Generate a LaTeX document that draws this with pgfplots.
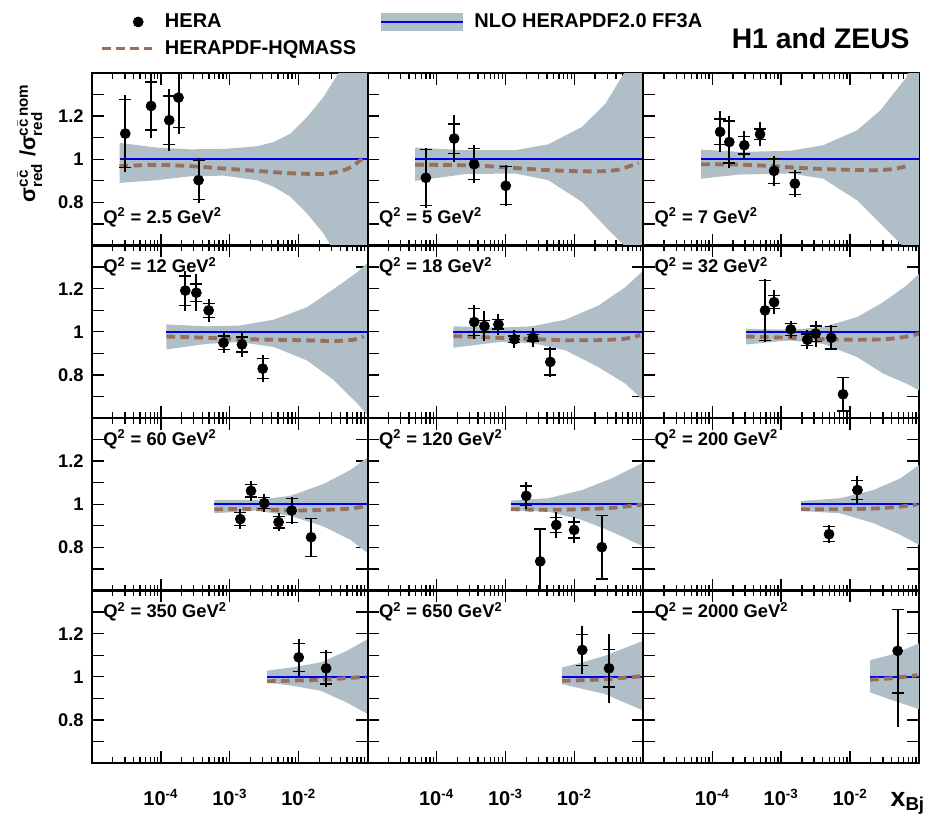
\documentclass[border=0pt]{standalone}
\usepackage{fontspec}
\setmainfont{Liberation Sans}
\usepackage{amsmath}
\usepackage{pgfplots}
\pgfplotsset{compat=1.18}
\definecolor{bandc}{RGB}{176,190,200}
\definecolor{brownc}{RGB}{150,112,92}
\definecolor{nloblue}{RGB}{0,0,230}
\pgfplotsset{
 hpanel/.style={
  scale only axis, width=165.4pt, height=103.5pt,
  xmin=1e-5, xmax=1e-1, ymin=0.6, ymax=1.4,
  xtick={1e-5,1e-4,1e-3,1e-2,1e-1},
  minor xtick={2e-5,3e-5,4e-5,5e-5,6e-5,7e-5,8e-5,9e-5,2e-4,3e-4,4e-4,5e-4,6e-4,7e-4,8e-4,9e-4,2e-3,3e-3,4e-3,5e-3,6e-3,7e-3,8e-3,9e-3,2e-2,3e-2,4e-2,5e-2,6e-2,7e-2,8e-2,9e-2},
  xticklabels={},
  ytick={0.7,0.8,0.9,1,1.1,1.2,1.3}, yticklabels={},
  major tick length=7pt, minor tick length=3.5pt,
  tick style={black, line width=0.8pt},
  axis line style={line width=1.2pt},
  yticklabel style={font=\bfseries\fontsize{11}{13}\selectfont, xshift=-1.5pt},
  xticklabel style={font=\bfseries\fontsize{12}{14}\selectfont, yshift=-12pt},
 },
 hleft/.style={yticklabels={{},0.8,{},1,{},1.2,{}}},
 hbottom/.style={xticklabels={{},10\textsuperscript{-4},10\textsuperscript{-3},10\textsuperscript{-2},{}}},
 hnlo/.style={nloblue, line width=1pt},
 hhq/.style={brownc, line width=2.3pt, dash pattern=on 5.2pt off 3.2pt, smooth},
 hband/.style={fill=bandc, draw=none},
 htot/.style={black, only marks, mark=none, error bars/y dir=both, error bars/y explicit, error bars/error mark=none, error bars/error bar style={line width=1.2pt, black}},
 hstat/.style={black, only marks, mark=*, mark size=3pt, mark options={fill=black}, error bars/y dir=both, error bars/y explicit, error bars/error bar style={line width=0.8pt, black}, error bars/error mark options={rotate=90, mark size=3.6pt, line width=0.8pt, black}},
}
\tikzset{qlab/.style={anchor=west, font=\bfseries\fontsize{11}{13}\selectfont}}
\begin{document}
\begin{tikzpicture}
\path[use as bounding box] (-55.2pt,43.8pt) rectangle (502.8pt,-447pt);

% ---------------- Row 1 ----------------
\begin{semilogxaxis}[hpanel, hleft, at={(0pt,0pt)}, legend columns=2, legend cell align=left,
  legend style={at={(0.029,1.36)}, anchor=north west, draw=none, fill=none, inner sep=0pt,
    font=\bfseries\fontsize{12}{14}\selectfont,
    nodes={inner sep=1.5pt}, row sep=3pt,
    /tikz/every odd column/.append style={column sep=5pt},
    /tikz/every even column/.append style={column sep=13pt}},
  anchor=north west]
\addlegendimage{legend image code/.code={\path[draw=none, fill=none] (0pt,-3pt) rectangle (30pt,3pt); \fill[black] (21.6pt,0pt) circle (3pt);}}
\addlegendentry{HERA}
\addlegendimage{legend image code/.code={\fill[bandc] (0pt,-5pt) rectangle (49pt,5pt); \draw[nloblue, line width=1pt] (0pt,0pt) -- (49pt,0pt);}}
\addlegendentry{NLO HERAPDF2.0 FF3A}
\addlegendimage{legend image code/.code={\draw[brownc, line width=2.3pt, dash pattern=on 5.2pt off 3.2pt] (0pt,0pt) -- (30pt,0pt);}}
\addlegendentry{HERAPDF-HQMASS}
\addplot[hband] coordinates {(2.51e-5,1.076) (8.71e-5,1.054) (2.69e-4,1.046) (8.13e-4,1.048) (2.45e-3,1.060) (4.37e-3,1.080) (7.59e-3,1.119) (1.32e-2,1.196) (2.29e-2,1.289) (3.98e-2,1.412) (0.1,1.75)
 (0.1,0.3) (3.98e-2,0.52) (2.29e-2,0.656) (1.32e-2,0.748) (7.59e-3,0.826) (4.37e-3,0.872) (2.45e-3,0.903) (8.13e-4,0.924) (2.69e-4,0.921) (8.71e-5,0.903) (2.51e-5,0.890)} -- cycle;
\addplot[hnlo] coordinates {(2.51e-5,1) (0.1,1)};
\addplot[hhq] coordinates {(2.51e-5,0.968) (8.71e-5,0.974) (2.69e-4,0.968) (8.13e-4,0.957) (2.45e-3,0.946) (7.59e-3,0.935) (2.29e-2,0.932) (4.47e-2,0.949) (6.27e-2,0.972) (8.75e-2,1.008)};
\addplot[htot] coordinates {(3.04e-5,1.119) +- (0,0.18) (7.2e-5,1.247) +- (0,0.15) (1.32e-4,1.181) +- (0,0.143) (1.8e-4,1.286) +- (0,0.167) (3.52e-4,0.903) +- (0,0.105)};
\addplot[hstat] coordinates {(3.04e-5,1.119) +- (0,0.157) (7.2e-5,1.247) +- (0,0.112) (1.32e-4,1.181) +- (0,0.112) (1.8e-4,1.286) +- (0,0.14) (3.52e-4,0.903) +- (0,0.09)};
\node[qlab] at (rel axis cs:0.02,0.165) {Q\textsuperscript{2} = 2.5 GeV\textsuperscript{2}};
\end{semilogxaxis}

\begin{semilogxaxis}[hpanel, at={(165.4pt,0pt)}, anchor=north west]
\addplot[hband] coordinates {(4.90e-5,1.054) (2.60e-4,1.042) (1.38e-3,1.042) (4.17e-3,1.069) (1.29e-2,1.150) (2.82e-2,1.258) (5.50e-2,1.41) (0.1,1.7)
 (0.1,0.35) (5.50e-2,0.594) (2.82e-2,0.687) (1.29e-2,0.802) (4.17e-3,0.903) (1.38e-3,0.934) (2.60e-4,0.931) (4.90e-5,0.900)} -- cycle;
\addplot[hnlo] coordinates {(4.90e-5,1) (0.1,1)};
\addplot[hhq] coordinates {(4.90e-5,0.975) (2.60e-4,0.972) (7.94e-4,0.965) (2.42e-3,0.954) (7.35e-3,0.946) (2.24e-2,0.944) (4.37e-2,0.952) (8.5e-2,0.983)};
\addplot[htot] coordinates {(7.0e-5,0.914) +- (0,0.14) (1.8e-4,1.096) +- (0,0.108) (3.5e-4,0.977) +- (0,0.088) (1.01e-3,0.877) +- (0,0.095)};
\addplot[hstat] coordinates {(7.0e-5,0.914) +- (0,0.13) (1.8e-4,1.096) +- (0,0.068) (3.5e-4,0.977) +- (0,0.072) (1.01e-3,0.877) +- (0,0.088)};
\node[qlab] at (rel axis cs:0.02,0.165) {Q\textsuperscript{2} = 5 GeV\textsuperscript{2}};
\end{semilogxaxis}

\begin{semilogxaxis}[hpanel, at={(330.8pt,0pt)}, anchor=north west]
\addplot[hband] coordinates {(6.92e-5,1.045) (2.51e-4,1.034) (1.35e-3,1.039) (4.07e-3,1.065) (1.26e-2,1.134) (2.75e-2,1.227) (6.61e-2,1.381) (0.1,1.55)
 (0.1,0.45) (6.61e-2,0.58) (2.75e-2,0.702) (1.26e-2,0.810) (4.07e-3,0.910) (1.35e-3,0.934) (2.51e-4,0.929) (6.92e-5,0.910)} -- cycle;
\addplot[hnlo] coordinates {(6.92e-5,1) (0.1,1)};
\addplot[hhq] coordinates {(6.92e-5,0.977) (2.51e-4,0.975) (7.71e-4,0.968) (2.36e-3,0.958) (7.16e-3,0.952) (2.18e-2,0.949) (4.25e-2,0.955) (7.43e-2,0.972)};
\addplot[htot] coordinates {(1.30e-4,1.127) +- (0,0.095) (1.77e-4,1.080) +- (0,0.12) (2.92e-4,1.065) +- (0,0.066) (4.94e-4,1.116) +- (0,0.056) (7.9e-4,0.946) +- (0,0.07) (1.58e-3,0.887) +- (0,0.062)};
\addplot[hstat] coordinates {(1.30e-4,1.127) +- (0,0.06) (1.77e-4,1.080) +- (0,0.097) (2.92e-4,1.065) +- (0,0.04) (4.94e-4,1.116) +- (0,0.025) (7.9e-4,0.946) +- (0,0.058) (1.58e-3,0.887) +- (0,0.05)};
\node[qlab] at (rel axis cs:0.02,0.165) {Q\textsuperscript{2} = 7 GeV\textsuperscript{2}};
\end{semilogxaxis}

% ---------------- Row 2 ----------------
\begin{semilogxaxis}[hpanel, hleft, at={(0pt,-103.5pt)}, anchor=north west]
\addplot[hband] coordinates {(1.20e-4,1.034) (4.68e-4,1.025) (1.41e-3,1.029) (4.37e-3,1.056) (1.32e-2,1.114) (3.24e-2,1.199) (7.08e-2,1.276) (0.1,1.32)
 (0.1,0.613) (7.08e-2,0.667) (3.24e-2,0.775) (1.32e-2,0.867) (4.37e-3,0.929) (1.41e-3,0.952) (4.68e-4,0.944) (1.20e-4,0.918)} -- cycle;
\addplot[hnlo] coordinates {(1.20e-4,1) (0.1,1)};
\addplot[hhq] coordinates {(1.20e-4,0.978) (4.68e-4,0.972) (1.41e-3,0.966) (4.37e-3,0.963) (1.32e-2,0.960) (3.24e-2,0.957) (6.27e-2,0.963) (8.75e-2,0.978)};
\addplot[htot] coordinates {(2.26e-4,1.191) +- (0,0.093) (3.27e-4,1.181) +- (0,0.085) (4.93e-4,1.099) +- (0,0.054) (8.1e-4,0.949) +- (0,0.048) (1.50e-3,0.941) +- (0,0.056) (3.0e-3,0.829) +- (0,0.061)};
\addplot[hstat] coordinates {(2.26e-4,1.191) +- (0,0.068) (3.27e-4,1.181) +- (0,0.04) (4.93e-4,1.099) +- (0,0.033) (8.1e-4,0.949) +- (0,0.031) (1.50e-3,0.941) +- (0,0.035) (3.0e-3,0.829) +- (0,0.047)};
\node[qlab] at (rel axis cs:0.02,0.877) {Q\textsuperscript{2} = 12 GeV\textsuperscript{2}};
\end{semilogxaxis}

\begin{semilogxaxis}[hpanel, at={(165.4pt,-103.5pt)}, anchor=north west]
\addplot[hband] coordinates {(1.76e-4,1.025) (7.94e-4,1.019) (2.40e-3,1.025) (7.41e-3,1.056) (2.24e-2,1.122) (5.50e-2,1.207) (0.1,1.284)
 (0.1,0.682) (5.50e-2,0.759) (2.24e-2,0.836) (7.41e-3,0.914) (2.40e-3,0.948) (7.94e-4,0.952) (1.76e-4,0.926)} -- cycle;
\addplot[hnlo] coordinates {(1.76e-4,1) (0.1,1)};
\addplot[hhq] coordinates {(1.76e-4,0.980) (7.94e-4,0.972) (2.42e-3,0.966) (7.35e-3,0.961) (2.24e-2,0.961) (5.5e-2,0.968) (9.0e-2,0.985)};
\addplot[htot] coordinates {(3.52e-4,1.045) +- (0,0.08) (4.95e-4,1.026) +- (0,0.068) (7.9e-4,1.034) +- (0,0.047) (1.35e-3,0.965) +- (0,0.042) (2.5e-3,0.972) +- (0,0.044) (4.47e-3,0.860) +- (0,0.071)};
\addplot[hstat] coordinates {(3.52e-4,1.045) +- (0,0.062) (4.95e-4,1.026) +- (0,0.027) (7.9e-4,1.034) +- (0,0.022) (1.35e-3,0.965) +- (0,0.015) (2.5e-3,0.972) +- (0,0.015) (4.47e-3,0.860) +- (0,0.06)};
\node[qlab] at (rel axis cs:0.02,0.877) {Q\textsuperscript{2} = 18 GeV\textsuperscript{2}};
\end{semilogxaxis}

\begin{semilogxaxis}[hpanel, at={(330.8pt,-103.5pt)}, anchor=north west]
\addplot[hband] coordinates {(3.09e-4,1.014) (1.35e-3,1.009) (4.07e-3,1.022) (1.26e-2,1.068) (3.02e-2,1.137) (6.61e-2,1.215) (0.1,1.269)
 (0.1,0.728) (6.61e-2,0.759) (3.02e-2,0.806) (1.26e-2,0.883) (4.07e-3,0.944) (1.35e-3,0.960) (3.09e-4,0.941)} -- cycle;
\addplot[hnlo] coordinates {(3.09e-4,1) (0.1,1)};
\addplot[hhq] coordinates {(3.09e-4,0.978) (1.35e-3,0.972) (4.07e-3,0.966) (1.26e-2,0.963) (3.02e-2,0.965) (5.94e-2,0.975) (0.1,0.991)};
\addplot[htot] coordinates {(5.83e-4,1.099) +- (0,0.145) (7.9e-4,1.137) +- (0,0.056) (1.38e-3,1.011) +- (0,0.04) (2.4e-3,0.963) +- (0,0.044) (3.16e-3,0.991) +- (0,0.06) (5.35e-3,0.972) +- (0,0.057) (7.9e-3,0.710) +- (0,0.08)};
\addplot[hstat] coordinates {(5.83e-4,1.099) +- (0,0.14) (7.9e-4,1.137) +- (0,0.03) (1.38e-3,1.011) +- (0,0.027) (2.4e-3,0.963) +- (0,0.027) (3.16e-3,0.991) +- (0,0.036) (5.35e-3,0.972) +- (0,0.052) (7.9e-3,0.710) +- (0,0.077)};
\node[qlab] at (rel axis cs:0.02,0.877) {Q\textsuperscript{2} = 32 GeV\textsuperscript{2}};
\end{semilogxaxis}

% ---------------- Row 3 ----------------
\begin{semilogxaxis}[hpanel, hleft, at={(0pt,-207pt)}, anchor=north west]
\addplot[hband] coordinates {(5.96e-4,1.020) (2.45e-3,1.020) (7.59e-3,1.039) (2.29e-2,1.094) (5.62e-2,1.159) (0.1,1.218)
 (0.1,0.773) (5.62e-2,0.835) (2.29e-2,0.897) (7.59e-3,0.946) (2.45e-3,0.971) (5.96e-4,0.958)} -- cycle;
\addplot[hnlo] coordinates {(5.96e-4,1) (0.1,1)};
\addplot[hhq] coordinates {(5.96e-4,0.977) (2.45e-3,0.977) (7.59e-3,0.971) (2.29e-2,0.974) (5.62e-2,0.980) (9.5e-2,0.992)};
\addplot[htot] coordinates {(1.42e-3,0.931) +- (0,0.046) (2.03e-3,1.062) +- (0,0.048) (3.16e-3,1.005) +- (0,0.043) (5.1e-3,0.917) +- (0,0.043) (7.9e-3,0.971) +- (0,0.062) (1.51e-2,0.847) +- (0,0.091)};
\addplot[hstat] coordinates {(1.42e-3,0.931) +- (0,0.031) (2.03e-3,1.062) +- (0,0.029) (3.16e-3,1.005) +- (0,0.026) (5.1e-3,0.917) +- (0,0.027) (7.9e-3,0.971) +- (0,0.056) (1.51e-2,0.847) +- (0,0.088)};
\node[qlab] at (rel axis cs:0.02,0.877) {Q\textsuperscript{2} = 60 GeV\textsuperscript{2}};
\end{semilogxaxis}

\begin{semilogxaxis}[hpanel, at={(165.4pt,-207pt)}, anchor=north west]
\addplot[hband] coordinates {(1.20e-3,1.017) (4.17e-3,1.028) (1.29e-2,1.066) (3.47e-2,1.120) (0.1,1.193)
 (0.1,0.804) (3.47e-2,0.873) (1.29e-2,0.927) (4.17e-3,0.966) (1.20e-3,0.971)} -- cycle;
\addplot[hnlo] coordinates {(1.20e-3,1) (0.1,1)};
\addplot[hhq] coordinates {(1.20e-3,0.977) (4.17e-3,0.974) (1.29e-2,0.977) (3.47e-2,0.983) (9.5e-2,0.998)};
\addplot[htot] coordinates {(2.0e-3,1.039) +- (0,0.063) (3.19e-3,0.735) +- (0,0.15) (5.45e-3,0.904) +- (0,0.06) (9.9e-3,0.881) +- (0,0.06) (2.5e-2,0.801) +- (0,0.148)};
\addplot[hstat] coordinates {(2.0e-3,1.039) +- (0,0.046) (3.19e-3,0.735) +- (0,0.15) (5.45e-3,0.904) +- (0,0.034) (9.9e-3,0.881) +- (0,0.037) (2.5e-2,0.801) +- (0,0.148)};
\node[qlab] at (rel axis cs:0.02,0.877) {Q\textsuperscript{2} = 120 GeV\textsuperscript{2}};
\end{semilogxaxis}

\begin{semilogxaxis}[hpanel, at={(330.8pt,-207pt)}, anchor=north west]
\addplot[hband] coordinates {(1.95e-3,1.015) (7.16e-3,1.028) (2.19e-2,1.066) (5.37e-2,1.120) (0.1,1.182)
 (0.1,0.812) (5.37e-2,0.858) (2.19e-2,0.912) (7.16e-3,0.958) (1.95e-3,0.969)} -- cycle;
\addplot[hnlo] coordinates {(1.95e-3,1) (0.1,1)};
\addplot[hhq] coordinates {(1.95e-3,0.977) (7.16e-3,0.977) (2.19e-2,0.980) (5.37e-2,0.989) (9.5e-2,1.0)};
\addplot[htot] coordinates {(4.95e-3,0.861) +- (0,0.043) (1.28e-2,1.066) +- (0,0.065)};
\addplot[hstat] coordinates {(4.95e-3,0.861) +- (0,0.035) (1.28e-2,1.066) +- (0,0.045)};
\node[qlab] at (rel axis cs:0.02,0.877) {Q\textsuperscript{2} = 200 GeV\textsuperscript{2}};
\end{semilogxaxis}

% ---------------- Row 4 ----------------
\begin{semilogxaxis}[hpanel, hleft, hbottom, at={(0pt,-310.5pt)}, anchor=north west]
\addplot[hband] coordinates {(3.47e-3,1.028) (8.5e-3,1.045) (2.09e-2,1.067) (5.0e-2,1.12) (0.1,1.175)
 (0.1,0.827) (5.0e-2,0.88) (2.09e-2,0.935) (8.5e-3,0.957) (3.47e-3,0.974)} -- cycle;
\addplot[hnlo] coordinates {(3.47e-3,1) (0.1,1)};
\addplot[hhq] coordinates {(3.47e-3,0.979) (2.09e-2,0.986) (9.5e-2,1.0)};
\addplot[htot] coordinates {(1.0e-2,1.090) +- (0,0.085) (2.5e-2,1.039) +- (0,0.085)};
\addplot[hstat] coordinates {(1.0e-2,1.090) +- (0,0.065) (2.5e-2,1.039) +- (0,0.072)};
\node[qlab] at (rel axis cs:0.02,0.877) {Q\textsuperscript{2} = 350 GeV\textsuperscript{2}};
\end{semilogxaxis}

\begin{semilogxaxis}[hpanel, hbottom, at={(165.4pt,-310.5pt)}, anchor=north west]
\addplot[hband] coordinates {(6.61e-3,1.043) (1.26e-2,1.065) (2.75e-2,1.097) (0.1,1.167)
 (0.1,0.843) (2.75e-2,0.920) (1.26e-2,0.945) (6.61e-3,0.966)} -- cycle;
\addplot[hnlo] coordinates {(6.61e-3,1) (0.1,1)};
\addplot[hhq] coordinates {(6.61e-3,0.981) (2.75e-2,0.988) (9.5e-2,1.003)};
\addplot[htot] coordinates {(1.30e-2,1.124) +- (0,0.112) (3.18e-2,1.039) +- (0,0.16)};
\addplot[hstat] coordinates {(1.30e-2,1.124) +- (0,0.073) (3.18e-2,1.039) +- (0,0.087)};
\node[qlab] at (rel axis cs:0.02,0.877) {Q\textsuperscript{2} = 650 GeV\textsuperscript{2}};
\end{semilogxaxis}

\begin{semilogxaxis}[hpanel, hbottom, at={(330.8pt,-310.5pt)}, anchor=north west]
\addplot[hband] coordinates {(1.95e-2,1.077) (4.27e-2,1.105) (0.1,1.155)
 (0.1,0.85) (4.27e-2,0.889) (1.95e-2,0.928)} -- cycle;
\addplot[hnlo] coordinates {(1.95e-2,1) (0.1,1)};
\addplot[hhq] coordinates {(1.95e-2,0.986) (4.27e-2,0.994) (9.5e-2,1.008)};
\addplot[htot] coordinates {(4.9e-2,1.120) += (0,0.193) -= (0,0.354)};
\addplot[hstat] coordinates {(4.9e-2,1.120) += (0,0.193) -= (0,0.195)};
\node[qlab] at (rel axis cs:0.02,0.877) {Q\textsuperscript{2} = 2000 GeV\textsuperscript{2}};
\end{semilogxaxis}

\node[rotate=90, font=\bfseries\fontsize{13}{15}\selectfont] at (-37.2pt,-42pt) {σ$^{\text{c}\bar{\text{c}}}_{\text{red}}$ /σ$^{\text{c}\bar{\text{c}}\,\text{nom}}_{\text{red}}$};
\node[anchor=base east, font=\bfseries\fontsize{17}{20}\selectfont, inner sep=0pt] at (490.8pt,15pt) {H1 and ZEUS};
\node[anchor=base east, font=\bfseries\fontsize{16}{18}\selectfont, inner sep=0pt] at (500pt,-439.8pt) {x\textsubscript{Bj}};
\end{tikzpicture}
\end{document}
